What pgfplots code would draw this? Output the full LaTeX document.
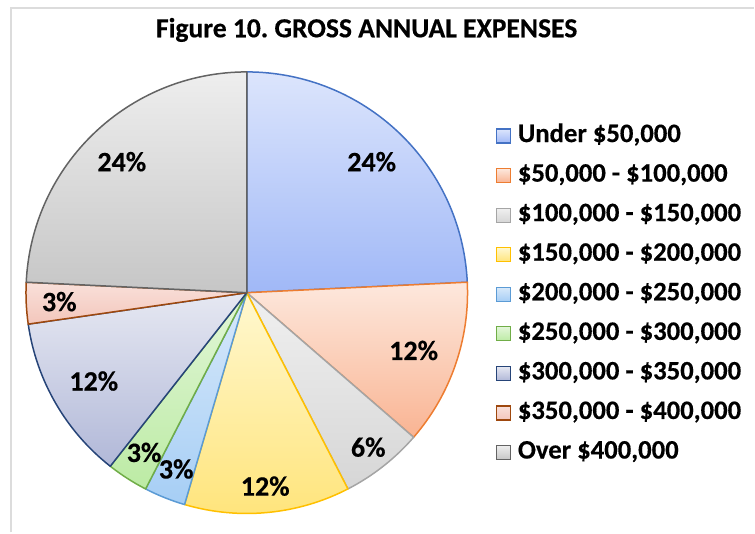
\documentclass[border=0pt]{standalone}
\usepackage{pgfplots}
\usepackage{pgfplotstable}
\pgfplotsset{compat=1.18}
\usepackage{fontspec}
\setmainfont{Carlito}[BoldFeatures={FakeBold=0.4}]
\frenchspacing

% slice colours: gradient top, gradient bottom, edge
\definecolor{blueT}{HTML}{DCE5FC}\definecolor{blueB}{HTML}{A0B8F7}\definecolor{blueE}{HTML}{4472C4}
\definecolor{oranT}{HTML}{FDE8DD}\definecolor{oranB}{HTML}{F9B493}\definecolor{oranE}{HTML}{ED7D31}
\definecolor{greyT}{HTML}{F0F0F0}\definecolor{greyB}{HTML}{D6D6D6}\definecolor{greyE}{HTML}{A5A5A5}
\definecolor{yellT}{HTML}{FFF8D0}\definecolor{yellB}{HTML}{FFE47A}\definecolor{yellE}{HTML}{FFC000}
\definecolor{lbluT}{HTML}{D8E9FA}\definecolor{lbluB}{HTML}{A6CEF5}\definecolor{lbluE}{HTML}{5B9BD5}
\definecolor{grenT}{HTML}{E2F6D8}\definecolor{grenB}{HTML}{BCEBA4}\definecolor{grenE}{HTML}{70AD47}
\definecolor{dbluT}{HTML}{E6E8F2}\definecolor{dbluB}{HTML}{B1B8D8}\definecolor{dbluE}{HTML}{264478}
\definecolor{redT}{HTML}{F9E0DA}\definecolor{redB}{HTML}{F3C6BB}\definecolor{redE}{HTML}{9E480E}
\definecolor{dgryT}{HTML}{EEEEEE}\definecolor{dgryB}{HTML}{C6C6C6}\definecolor{dgryE}{HTML}{636363}
\definecolor{frame}{HTML}{DCDCDC}

% counts per expense band (shares of 33 respondents)
\pgfplotstableread{
n  lr    top    bot    edge
8  0.82  blueT  blueB  blueE
4  0.80  oranT  oranB  oranE
2  0.89  greyT  greyB  greyE
4  0.88  yellT  yellB  yellE
1  0.86  lbluT  lbluB  lbluE
1  0.86  grenT  grenB  grenE
4  0.80  dbluT  dbluB  dbluE
1  0.85  redT   redB   redE
8  0.82  dgryT  dgryB  dgryE
}\piedata

\newcommand\labfont{\fontsize{28bp}{30bp}\selectfont\bfseries}

\begin{document}
\begin{tikzpicture}
\begin{axis}[
    x=1bp, y=1bp,
    xmin=0, xmax=755, ymin=0, ymax=533,
    hide axis, clip=false,
    legend cell align=left,
    legend image code/.code={\draw[#1,line width=1.2bp] (0bp,-7bp) rectangle (14bp,7bp);},
    legend style={at={(axis cs:496,410)}, anchor=north west, draw=none, fill=none,
        inner sep=0pt, row sep=13.6bp, column sep=7bp,
        font=\fontsize{26.7bp}{28bp}\selectfont\bfseries,
        nodes={inner sep=0pt, text height=19bp, text depth=7bp}},
]
\path (axis cs:0,0) rectangle (axis cs:755,533);
% chart frame (top and left edges)
\draw[frame, line width=1.5bp] (axis cs:11,0) -- (axis cs:11,525) -- (axis cs:755,525);
\node[font=\fontsize{27.6bp}{29bp}\selectfont\bfseries] at (axis cs:367,503) {Figure 10. GROSS ANNUAL EXPENSES};

\def\total{0}
\pgfplotsforeachungrouped\i in {0,...,8}{%
  \pgfplotstablegetelem{\i}{n}\of\piedata
  \pgfmathsetmacro\total{\total+\pgfplotsretval}%
}
\def\startang{90}
\pgfplotsforeachungrouped\i in {0,...,8}{%
  \pgfplotstablegetelem{\i}{n}\of\piedata \let\n\pgfplotsretval
  \pgfplotstablegetelem{\i}{lr}\of\piedata \let\lr\pgfplotsretval
  \pgfplotstablegetelem{\i}{top}\of\piedata \let\ct\pgfplotsretval
  \pgfplotstablegetelem{\i}{bot}\of\piedata \let\cb\pgfplotsretval
  \pgfplotstablegetelem{\i}{edge}\of\piedata \let\ce\pgfplotsretval
  \pgfmathsetmacro\endang{\startang-360*\n/\total}%
  \pgfmathsetmacro\midang{(\startang+\endang)/2}%
  \pgfmathsetmacro\lrad{\lr*221}%
  \pgfmathtruncatemacro\pct{round(100*\n/\total)}%
  \edef\temp{%
    \noexpand\draw[top color=\ct, bottom color=\cb, draw=\ce, line width=1.5bp, line join=round]
      (axis cs:247,240) -- ++(\startang:221bp)
      arc[start angle=\startang, end angle=\endang, radius=221bp] -- cycle;
    \noexpand\path (axis cs:247,240) ++(\midang:\lrad bp)
      node[font=\noexpand\labfont] {\pct\noexpand\%};
  }\temp
  \let\startang\endang
}

\addlegendimage{top color=blueT, bottom color=blueB, draw=blueE}
\addlegendentry{Under \$50,000}
\addlegendimage{top color=oranT, bottom color=oranB, draw=oranE}
\addlegendentry{\$50,000 - \$100,000}
\addlegendimage{top color=greyT, bottom color=greyB, draw=greyE}
\addlegendentry{\$100,000 - \$150,000}
\addlegendimage{top color=yellT, bottom color=yellB, draw=yellE}
\addlegendentry{\$150,000 - \$200,000}
\addlegendimage{top color=lbluT, bottom color=lbluB, draw=lbluE}
\addlegendentry{\$200,000 - \$250,000}
\addlegendimage{top color=grenT, bottom color=grenB, draw=grenE}
\addlegendentry{\$250,000 - \$300,000}
\addlegendimage{top color=dbluT, bottom color=dbluB, draw=dbluE}
\addlegendentry{\$300,000 - \$350,000}
\addlegendimage{top color=redT, bottom color=redB, draw=redE}
\addlegendentry{\$350,000 - \$400,000}
\addlegendimage{top color=dgryT, bottom color=dgryB, draw=dgryE}
\addlegendentry{Over \$400,000}
\end{axis}
\end{tikzpicture}
\end{document}
